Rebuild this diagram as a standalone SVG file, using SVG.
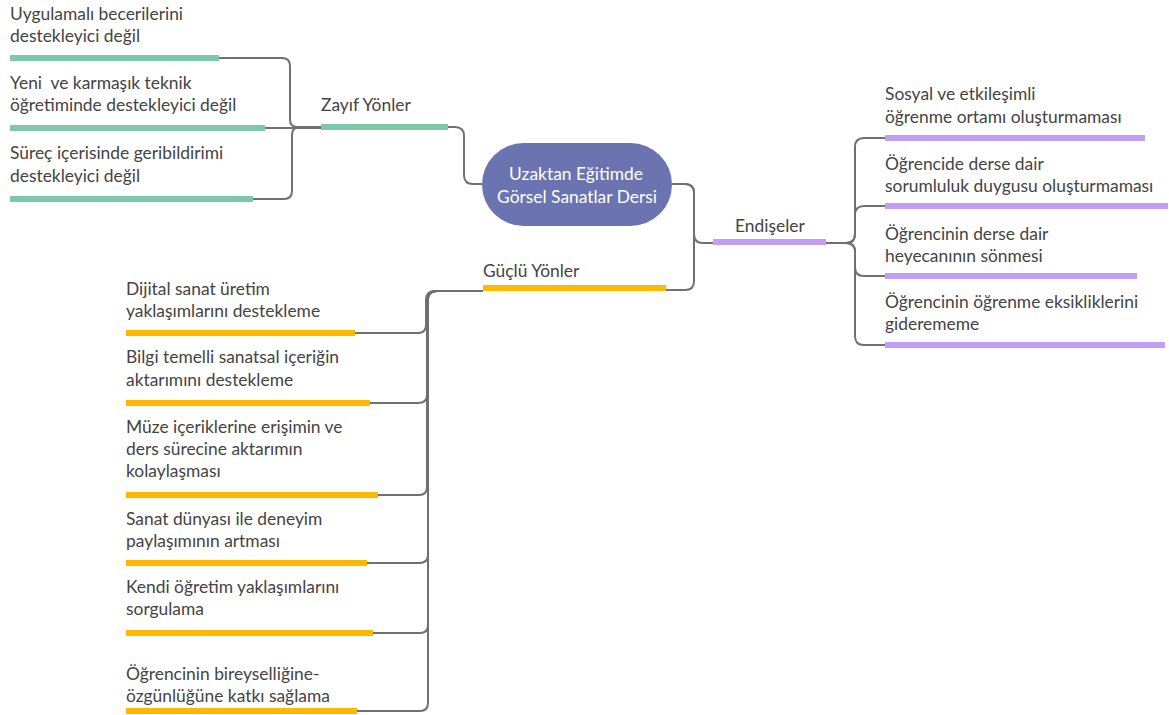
<svg xmlns="http://www.w3.org/2000/svg" width="1169" height="715" viewBox="0 0 1169 715">
<style>
text{font-family:Lato,"Noto Sans",sans-serif;font-size:17.4px;fill:#444}
.c{fill:none;stroke:#707070;stroke-width:2}
.g{stroke:#7cc8a8;stroke-width:6}
.y{stroke:#fcb900;stroke-width:6}
.p{stroke:#c39cf3;stroke-width:6}
.ct{fill:#fff;text-anchor:middle}
</style>
<rect width="1169" height="715" fill="#fff"/>
<g id="connectors">
<path class="c" d="M219,58 H282 Q290,58 290,66 V120 Q290,127 298,127 H321"/>
<path class="c" d="M265,128 H321"/>
<path class="c" d="M253,199 H284 Q292,199 292,191 V135 Q292,127 300,127 H321"/>
<path class="c" d="M448,127 H455 Q464,127 464,136 V175 Q464,184 473,184 H482"/>
<path class="c" d="M672,184 H685 Q694,184 694,193 V234 Q694,243 703,243 H713"/>
<path class="c" d="M672,184 H685 Q694,184 694,193 V281 Q694,290 685,290 H666"/>
<path class="c" d="M826,243 H846 Q855,243 855,234 V147 Q855,138 864,138 H885"/>
<path class="c" d="M826,243 H846 Q855,243 855,234 V215 Q855,206 864,206 H885"/>
<path class="c" d="M826,243 H846 Q855,243 855,252 V267 Q855,276 864,276 H885"/>
<path class="c" d="M826,243 H846 Q855,243 855,252 V336 Q855,345 864,345 H885"/>
<path class="c" d="M355,333 H418 Q426,333 426,325 V300 Q426,291 435,291 H483"/>
<path class="c" d="M370,403 H418 Q427,403 427,395 V300 Q427,291 436,291 H483"/>
<path class="c" d="M378,495 H419 Q427,495 427,487 V300 Q427,291 436,291 H483"/>
<path class="c" d="M367,563 H419 Q428,563 428,555 V300 Q428,291 437,291 H483"/>
<path class="c" d="M373,633 H420 Q428,633 428,625 V300 Q428,291 437,291 H483"/>
<path class="c" d="M357,711 H420 Q428,711 428,703 V300 Q428,291 437,291 H483"/>
</g>
<g id="center">
<rect x="482" y="143" width="190" height="83" rx="41.5" fill="#6b74b0"/>
<text class="ct" x="576" y="180">Uzaktan Eğitimde</text>
<text class="ct" x="577" y="203">Görsel Sanatlar Dersi</text>
</g>
<g id="zayif">
<line class="g" x1="321" y1="127" x2="448" y2="127"/>
<text x="321" y="111">Zayıf Yönler</text>
</g>
<g id="z1">
<line class="g" x1="10" y1="58" x2="219" y2="58"/>
<text x="10" y="20">Uygulamalı becerilerini</text>
<text x="10" y="42">destekleyici değil</text>
</g>
<g id="z2">
<line class="g" x1="10" y1="128" x2="265" y2="128"/>
<text x="10" y="89" xml:space="preserve">Yeni  ve karmaşık teknik</text>
<text x="10" y="111">öğretiminde destekleyici değil</text>
</g>
<g id="z3">
<line class="g" x1="10" y1="199" x2="253" y2="199"/>
<text x="10" y="159">Süreç içerisinde geribildirimi</text>
<text x="10" y="182">destekleyici değil</text>
</g>
<g id="endiseler">
<line class="p" x1="713" y1="242" x2="826" y2="242"/>
<text x="735" y="232">Endişeler</text>
</g>
<g id="e1">
<line class="p" x1="885" y1="138" x2="1145" y2="138"/>
<text x="885" y="100">Sosyal ve etkileşimli</text>
<text x="885" y="123">öğrenme ortamı oluşturmaması</text>
</g>
<g id="e2">
<line class="p" x1="885" y1="206" x2="1168" y2="206"/>
<text x="885" y="170">Öğrencide derse dair</text>
<text x="885" y="192">sorumluluk duygusu oluşturmaması</text>
</g>
<g id="e3">
<line class="p" x1="885" y1="276" x2="1137" y2="276"/>
<text x="885" y="240">Öğrencinin derse dair</text>
<text x="885" y="262">heyecanının sönmesi</text>
</g>
<g id="e4">
<line class="p" x1="885" y1="345" x2="1165" y2="345"/>
<text x="885" y="308">Öğrencinin öğrenme eksikliklerini</text>
<text x="885" y="330">giderememe</text>
</g>
<g id="guclu">
<line class="y" x1="483" y1="288" x2="666" y2="288"/>
<text x="483" y="277">Güçlü Yönler</text>
</g>
<g id="g1">
<line class="y" x1="126" y1="333" x2="355" y2="333"/>
<text x="126" y="295">Dijital sanat üretim</text>
<text x="126" y="317">yaklaşımlarını destekleme</text>
</g>
<g id="g2">
<line class="y" x1="126" y1="403" x2="370" y2="403"/>
<text x="126" y="363">Bilgi temelli sanatsal içeriğin</text>
<text x="126" y="386">aktarımını destekleme</text>
</g>
<g id="g3">
<line class="y" x1="126" y1="495" x2="378" y2="495"/>
<text x="126" y="433">Müze içeriklerine erişimin ve</text>
<text x="126" y="455">ders sürecine aktarımın</text>
<text x="126" y="477">kolaylaşması</text>
</g>
<g id="g4">
<line class="y" x1="126" y1="563" x2="367" y2="563"/>
<text x="126" y="525">Sanat dünyası ile deneyim</text>
<text x="126" y="547">paylaşımının artması</text>
</g>
<g id="g5">
<line class="y" x1="126" y1="633" x2="373" y2="633"/>
<text x="126" y="593">Kendi öğretim yaklaşımlarını</text>
<text x="126" y="615">sorgulama</text>
</g>
<g id="g6">
<line class="y" x1="126" y1="711" x2="357" y2="711"/>
<text x="126" y="680">Öğrencinin bireyselliğine-</text>
<text x="126" y="702">özgünlüğüne katkı sağlama</text>
</g>
</svg>
